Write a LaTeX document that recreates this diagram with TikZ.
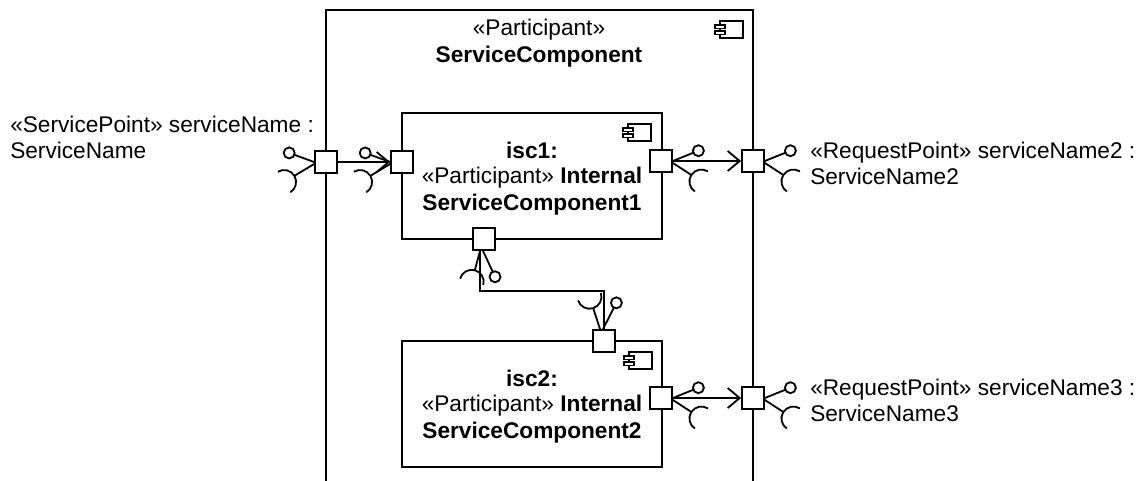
\documentclass[tikz,border=0pt]{standalone}
\usepackage{fontspec}
\setmainfont{Liberation Sans}
\usetikzlibrary{arrows.meta,calc}
\tikzset{
  box/.style={line width=1.5pt},
  conn/.style={line width=1.35pt},
  portbox/.style={draw, fill=white, line width=1.35pt, minimum size=16.5pt, inner sep=0pt},
  comp/.style={draw, line width=1.5pt, minimum width=195pt, minimum height=94.5pt, inner sep=0pt},
  txt/.style={font=\fontsize{17}{20}\selectfont, inner sep=0pt, anchor=base},
  txtl/.style={txt, anchor=base west},
  deleg/.style={conn, -{Straight Barb[length=9pt,width=15pt]}},
  iconline/.style={line width=1.1pt},
  compicon/.pic={
    \draw[iconline] (5,0) rectangle (28,-17);
    \draw[iconline, fill=white] (0,-4) rectangle (10,-7.5);
    \draw[iconline, fill=white] (0,-10) rectangle (10,-13.5);
  }
}
\newcommand{\mylolli}[3]{\draw[conn] #1 -- ++(#2:#3) ++(#2:5.5) circle[radius=5.5];}
\newcommand{\mysock}[3]{\draw[conn] #1 -- ++(#2:#3) coordinate (sockE) arc[start angle={#2+180}, end angle={#2+270}, radius=12] (sockE) arc[start angle={#2+180}, end angle={#2+90}, radius=12];}
\begin{document}
\begin{tikzpicture}[x=0.75pt,y=0.75pt]
\useasboundingbox (0,0) rectangle (1139,-481);
% outer participant (open at bottom)
\draw[box] (326,-482) -- (326,-10) -- (753,-10) -- (753,-482);
\pic (iconOuter) at (715,-21) {compicon};
\node[txt] (tOuter1) at (539,-36) {«Participant»};
\node[txt] (tOuter2) at (539,-63) {\textbf{ServiceComponent}};
% internal components
\node[comp] (isc1) at (532,-176) {};
\node[comp] (isc2) at (532,-404) {};
\pic (icon1) at (623,-124) {compicon};
\pic (icon2) at (624,-352) {compicon};
\node[txt] (t11) at (532,-159) {\textbf{isc1:}};
\node[txt] (t12) at (532,-184) {«Participant» \textbf{Internal}};
\node[txt] (t13) at (532,-210) {\textbf{ServiceComponent1}};
\node[txt] (t21) at (532,-386) {\textbf{isc2:}};
\node[txt] (t22) at (532,-411) {«Participant» \textbf{Internal}};
\node[txt] (t23) at (532,-438) {\textbf{ServiceComponent2}};
% ports
\node[portbox] (pol) at (326,-162) {};
\node[portbox] (p1l) at (402,-162) {};
\node[portbox] (p1r) at (661,-161) {};
\node[portbox] (por1) at (753,-161) {};
\node[portbox] (p1b) at (484,-239) {};
\node[portbox] (p2t) at (604,-341) {};
\node[portbox] (p2r) at (661,-398) {};
\node[portbox] (por2) at (753,-398) {};
% delegation connectors
\draw[deleg] (pol.east) -- (p1l.west);
\draw[deleg] (p1r.east) -- (por1.west);
\draw[deleg] (p2r.east) -- (por2.west);
% assembly connector
\draw[conn] ($(p1b.south)+(-4,0)$) -- ++(0,-40) -| (p2t.north);
% provided / required interfaces
\mylolli{(pol.west)}{160}{21}
\mysock{($(pol.west)+(0,-2)$)}{211}{23}
\mylolli{(p1l.west)}{160}{21}
\mysock{($(p1l.west)+(0,-2)$)}{211}{23}
\mylolli{(p1r.east)}{22}{22}
\mysock{($(p1r.east)+(0,-2)$)}{-33}{22}
\mylolli{(por1.east)}{22}{22}
\mysock{($(por1.east)+(0,-2)$)}{-33}{22}
\mylolli{(p2r.east)}{22}{22}
\mysock{($(p2r.east)+(0,-2)$)}{-33}{22}
\mylolli{(por2.east)}{22}{22}
\mysock{($(por2.east)+(0,-2)$)}{-33}{22}
\mylolli{($(p1b.south)+(-1,0)$)}{-65}{23}
\mysock{($(p1b.south)+(-4,0)$)}{-105}{20}
\mylolli{($(p2t.north)+(-1,0)$)}{63}{24}
\mysock{($(p2t.north)+(-4,0)$)}{108}{22}
% labels
\node[txtl] (lblL1) at (10,-133) {«ServicePoint» serviceName :};
\node[txtl] (lblL2) at (10,-159) {ServiceName};
\node[txtl] (lblR1) at (810,-159) {«RequestPoint» serviceName2 :};
\node[txtl] (lblR2) at (810,-185) {ServiceName2};
\node[txtl] (lblR3) at (810,-395) {«RequestPoint» serviceName3 :};
\node[txtl] (lblR4) at (810,-421) {ServiceName3};
\end{tikzpicture}
\end{document}
